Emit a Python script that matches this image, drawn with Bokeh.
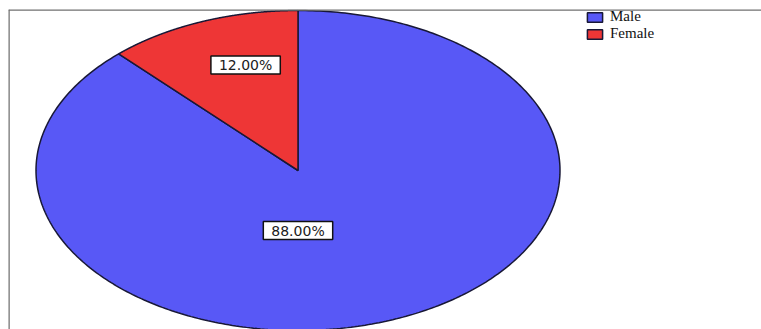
import numpy as np
from bokeh.plotting import figure
from bokeh.models import ColumnDataSource, Span, Legend, LegendItem, Range1d
from bokeh.core.properties import value
from bokeh.embed import file_html
from bokeh.resources import INLINE

# ---- data ----
categories = ["Male", "Female"]
percent = [88.0, 12.0]
labels = ["88.00%", "12.00%"]
colors = ["#5858f6", "#ee3636"]

# ---- layout constants (not data) ----
W, H = 761, 329
LEFT, TOP = 8, 9
FW, FH = W - LEFT, H - TOP
CX, CY = 289.5, 161.0      # pie centre inside frame, px
RX, RY = 262.0, 160.0      # pie radii, px
LABEL_X = [0.0, -0.20]     # label anchors in unit-circle coords
LABEL_Y = [-0.375, 0.66]

# build sectors: Female starts at 12 o'clock counter-clockwise, Male fills the rest
frac = np.array(percent) / sum(percent)
order = [1, 0]
start = np.pi / 2
xs, ys = [None] * 2, [None] * 2
for i in order:
    end = start + 2 * np.pi * frac[i]
    t = np.linspace(start, end, 400)
    xs[i] = [0.0] + list(np.cos(t)) + [0.0]
    ys[i] = [0.0] + list(np.sin(t)) + [0.0]
    start = end

src = ColumnDataSource(dict(xs=xs, ys=ys, color=colors, cat=categories))
lsrc = ColumnDataSource(dict(x=LABEL_X, y=LABEL_Y, text=labels))

p = figure(width=W, height=H, output_backend="svg", toolbar_location=None,
           x_range=Range1d(-CX / RX, (FW - CX) / RX),
           y_range=Range1d(-(FH - CY) / RY, CY / RY),
           min_border_left=LEFT, min_border_top=TOP,
           min_border_right=0, min_border_bottom=0)
p.axis.visible = False
p.grid.visible = False
p.outline_line_color = None
p.background_fill_color = "white"
p.border_fill_color = "white"

r = p.patches("xs", "ys", source=src, fill_color="color", line_color="#181836",
              line_width=1.5)

p.text("x", "y", text="text", source=lsrc, text_align="center", text_baseline="middle",
       text_font=value("DejaVu Sans"), text_font_size="14px", text_color="#202020",
       background_fill_color="white", border_line_color="#111111", border_line_width=1.5,
       padding=dict(left=8, right=8, top=1, bottom=1))

# frame border (left and top only)
p.add_layout(Span(location=p.x_range.start, dimension="height", line_color="#707070", line_width=2.5))
p.add_layout(Span(location=p.y_range.end, dimension="width", line_color="#707070", line_width=2.5))

legend = Legend(items=[LegendItem(label=categories[0], renderers=[r], index=0),
                       LegendItem(label=categories[1], renderers=[r], index=1)],
                location=(577, FH - 33), orientation="vertical",
                label_text_font="Liberation Serif", label_text_font_size="15px",
                label_text_color="#111111",
                glyph_width=19, glyph_height=12, label_height=15, label_standoff=6,
                spacing=0, padding=0, margin=0,
                border_line_color=None, background_fill_alpha=0)
p.add_layout(legend)

open("out.html", "w").write(file_html(p, INLINE))
